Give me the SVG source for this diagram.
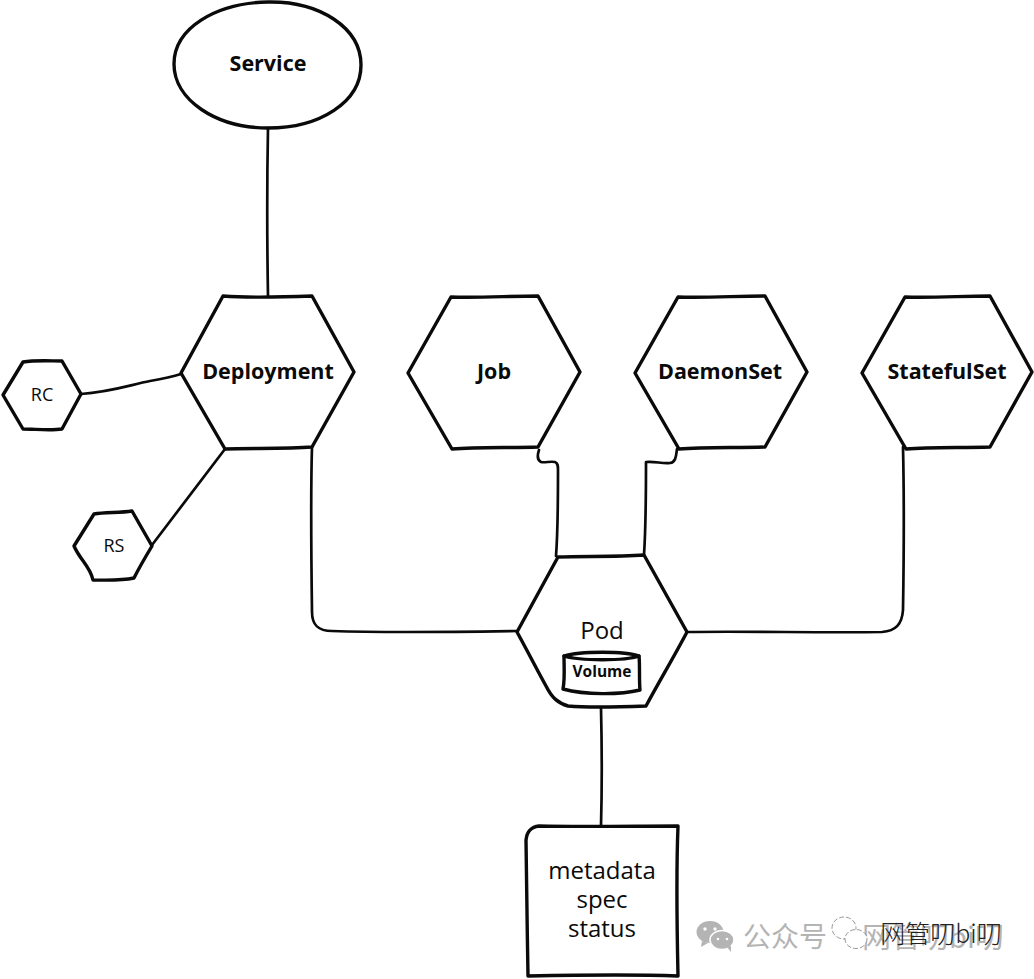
<svg xmlns="http://www.w3.org/2000/svg" width="1034" height="979" viewBox="0 0 1034 979">
<style>
.s{fill:none;stroke:#0a0a0a;stroke-width:3.4;stroke-linejoin:round;stroke-linecap:round}
.c{fill:none;stroke:#0a0a0a;stroke-width:2.7;stroke-linejoin:round;stroke-linecap:round}
text{font-family:"Open Sans","Noto Sans","Noto Sans CJK SC",sans-serif;text-anchor:middle;fill:#0a0a0a}
.b{font-weight:700;font-size:21.5px}
.n{font-size:18px}
.l{font-size:24px}
.w{fill:#b4b4b4;text-anchor:start;font-family:"Noto Sans CJK SC",sans-serif}
</style>
<rect width="1034" height="979" fill="#fff"/>
<g id="connectors">
<path class="c" d="M268 128C267 180 267 240 268 296"/>
<path class="c" d="M81 394C110 392 130 385 150 381C162 379 172 377 181 374"/>
<path class="c" d="M152 545L225 449"/>
<path class="c" d="M312 447C311 480 311 540 312 612C312 625 318 631 332 631C390 633 450 632 517 631"/>
<path class="c" d="M539 450C537 456 537 460 541 462C545 463 550 461 555 462C558 463 558 466 558 470C558 500 558 530 556 556"/>
<path class="c" d="M677 449C676 456 676 462 670 463C662 464 655 461 646 462C646 495 646 525 644 555"/>
<path class="c" d="M903 447C904 490 904 550 903 610C902 624 896 631 882 632C820 633 750 631 687 632"/>
<path class="c" d="M601 708C602 750 602 790 601 826"/>
</g>
<g id="service"><path class="s" d="M268 2C320 1 361 28 361 65C361 102 320 128 268 128C216 128 174 100 174 64C174 28 216 3 268 2Z" fill="#fff"/><text class="b" x="268" y="71">Service</text></g>
<g id="deployment"><path class="s" d="M223 296C250 298 285 297 312 296L354 372L312 447C285 449 250 448 225 449L181 373Z"/><text class="b" x="268" y="379">Deployment</text></g>
<g id="job"><path class="s" d="M451 297C478 298 510 296 538 296L580 372L538 447C510 448 478 447 452 449L408 373Z"/><text class="b" x="494" y="379">Job</text></g>
<g id="daemonset"><path class="s" d="M678 297C705 298 737 296 765 296L807 372L765 447C737 448 705 447 679 449L635 373Z"/><text class="b" x="720" y="379">DaemonSet</text></g>
<g id="statefulset"><path class="s" d="M905 297C932 298 962 296 990 296L1032 372L990 447C962 448 932 447 906 449L862 373Z"/><text class="b" x="947" y="379">StatefulSet</text></g>
<g id="rc"><path class="s" d="M23 362C35 360 50 361 62 361L81 394L62 429C50 431 35 429 23 429L3 395Z"/><text class="n" x="42" y="401">RC</text></g>
<g id="rs"><path class="s" d="M94 514C105 512 120 513 132 511L152 546C146 556 140 566 134 578C120 581 105 580 93 580C90 566 80 560 74 546Z"/><text class="n" x="114" y="552">RS</text></g>
<g id="pod"><path class="s" d="M558 557C585 556 615 557 644 555L687 632C675 655 660 680 646 706C620 707 590 708 568 706C558 703 552 698 546 686C537 670 527 650 517 632Z"/><text class="l" x="602" y="639">Pod</text>
<g id="volume"><path class="s" d="M564 656C580 651 625 651 639 656C640 665 639 680 640 690C620 695 585 695 563 689C565 680 564 665 564 656Z"/><path class="s" d="M564 656C580 661 625 661 639 656"/><text x="602" y="677" style="font-weight:700;font-size:15.5px">Volume</text></g></g>
<g id="details"><path class="s" d="M539 826C580 827 640 826 678 826C676 875 677 930 678 976C630 974 575 975 528 976C527 930 527 880 526 840C527 831 531 827 539 826Z"/><text class="l" x="602" y="879">metadata</text><text class="l" x="602" y="908">spec</text><text class="l" x="602" y="937">status</text></g>
<g id="watermark">
<ellipse cx="710" cy="932" rx="13.5" ry="11" fill="#b4b4b4"/><path d="M702 941L701 947L708 943Z" fill="#b4b4b4"/>
<ellipse cx="722" cy="940" rx="12" ry="9.500" fill="#b4b4b4" stroke="#fff" stroke-width="1.500"/><path d="M727 947L731 952L731 946Z" fill="#b4b4b4"/>
<circle cx="705" cy="929" r="1.700" fill="#fff"/><circle cx="715" cy="929" r="1.700" fill="#fff"/><circle cx="718" cy="939" r="1.300" fill="#fff"/><circle cx="727" cy="939" r="1.300" fill="#fff"/>
<text class="w" x="743" y="947" style="font-size:28px">公众号</text>
<text class="w" x="862" y="948" style="font-size:29px">网管叨bi叨</text>
<ellipse cx="844" cy="928" rx="12" ry="11" fill="#fff" stroke="#555" stroke-width=".6" stroke-dasharray="5 2"/>
<ellipse cx="856" cy="939" rx="11" ry="9.500" fill="#fff" stroke="#555" stroke-width=".6" stroke-dasharray="5 2"/>
<text x="941" y="943" style="font-size:25px;font-weight:300;fill:#222;font-family:'Noto Sans CJK SC',sans-serif">网管叨bi叨</text>
</g>
</svg>
